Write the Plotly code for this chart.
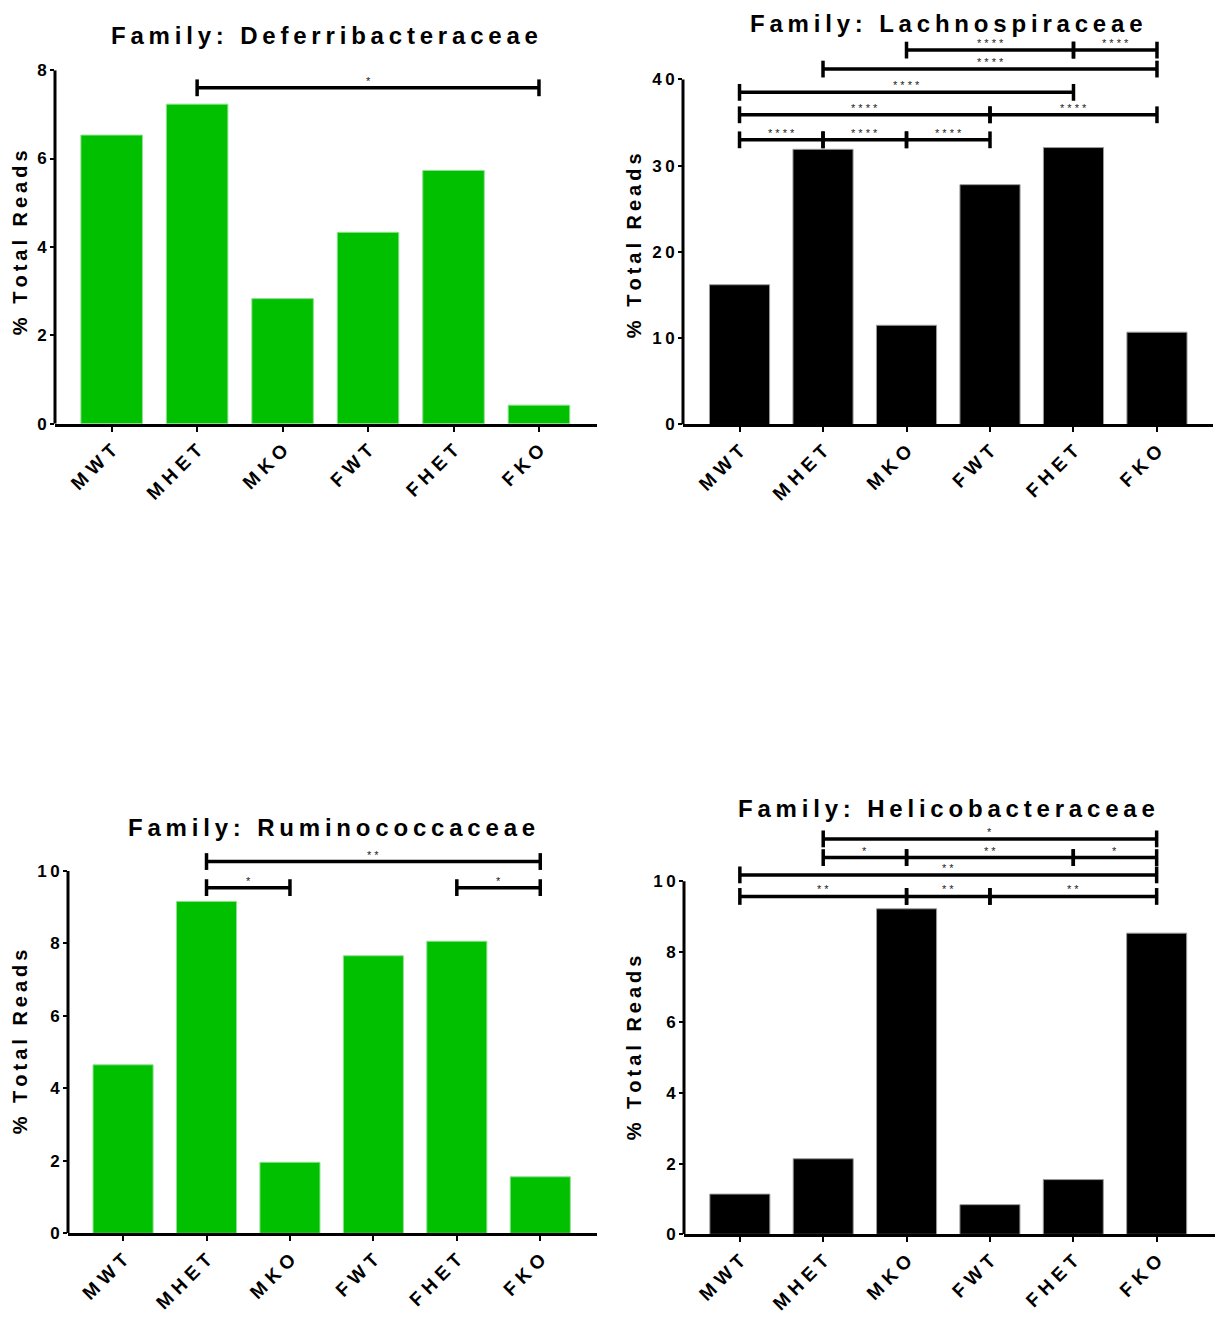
import plotly.graph_objects as go

# groups on the x axis
groups = ['MWT', 'MHET', 'MKO', 'FWT', 'FHET', 'FKO']

# % total reads per group
deferri = [6.53, 7.23, 2.83, 4.33, 5.73, 0.42]
lachno = [16.2, 31.9, 11.5, 27.8, 32.1, 10.7]
rumino = [4.65, 9.16, 1.96, 7.66, 8.06, 1.56]
helico = [1.14, 2.14, 9.22, 0.84, 1.55, 8.53]

# significance brackets: (from, to, height, stars)
deferri_sig = [('MHET', 'FKO', 7.6, '*')]
lachno_sig = [
    ('MWT', 'MHET', 33.0, '****'), ('MHET', 'MKO', 33.0, '****'), ('MKO', 'FWT', 33.0, '****'),
    ('MWT', 'FWT', 35.9, '****'), ('FWT', 'FKO', 35.9, '****'),
    ('MWT', 'FHET', 38.5, '****'),
    ('MHET', 'FKO', 41.2, '****'),
    ('MKO', 'FHET', 43.4, '****'), ('FHET', 'FKO', 43.4, '****'),
]
rumino_sig = [
    ('MHET', 'MKO', 9.54, '*'), ('FHET', 'FKO', 9.54, '*'),
    ('MHET', 'FKO', 10.26, '**'),
]
helico_sig = [
    ('MWT', 'MKO', 9.57, '**'), ('MKO', 'FWT', 9.57, '**'), ('FWT', 'FKO', 9.57, '**'),
    ('MWT', 'FKO', 10.18, '**'),
    ('MHET', 'MKO', 10.67, '*'), ('MKO', 'FHET', 10.67, '**'), ('FHET', 'FKO', 10.67, '*'),
    ('MHET', 'FKO', 11.2, '*'),
]

# y tick values
deferri_ticks = [0, 2, 4, 6, 8]
lachno_ticks = [0, 10, 20, 30, 40]
rumino_ticks = [0, 2, 4, 6, 8, 10]
helico_ticks = [0, 2, 4, 6, 8, 10]

# the page body has an 8px margin, so the figure is shrunk and shifted by it
OFF = 8
W, H = 1225 - 2 * OFF, 1332 - 2 * OFF
# the screenshot comes out slightly squeezed vertically, undo that
YS, YC = 0.9854, 9.0
GREEN = '#00c000'
FONT = 'Liberation Sans, Arial, sans-serif'


def fx(x):
    return (x - OFF) / W


def fy(y):
    y = (y - YC) / YS
    return (H - (y - OFF)) / H


def spaced(s, gap='\u2009'):
    # Prism-style wide letter spacing
    return (gap + ' ' + gap).join(gap.join(w) for w in s.split(' '))


# target pixels: x axis left/right, y of zero, y of axis top, axis max, range top
panels = [
    dict(title='Family: Deferribacteraceae', vals=deferri, sig=deferri_sig, ticks=deferri_ticks,
         color=GREEN, edge='#8fe08f', px=(55, 597), zero=423.5, top=70, ymax=8, rtop=8,
         cat=(-0.663, 5.679), title_xy=(324, 35), ytitle_xy=(20, 243)),
    dict(title='Family: Lachnospiraceae', vals=lachno, sig=lachno_sig, ticks=lachno_ticks,
         color='black', edge='#9a9a9a', px=(683, 1213), zero=424.3, top=79.3, ymax=40, rtop=45,
         cat=(-0.677, 5.671), title_xy=(946, 23), ytitle_xy=(634, 246)),
    dict(title='Family: Ruminococcaceae', vals=rumino, sig=rumino_sig, ticks=rumino_ticks,
         color=GREEN, edge='#8fe08f', px=(68, 597), zero=1233, top=870.7, ymax=10, rtop=10.6,
         cat=(-0.66, 5.68), title_xy=(331, 827), ytitle_xy=(20, 1042)),
    dict(title='Family: Helicobacteraceae', vals=helico, sig=helico_sig, ticks=helico_ticks,
         color='black', edge='#9a9a9a', px=(684, 1215), zero=1234, top=881, ymax=10, rtop=11.4,
         cat=(-0.67, 5.70), title_xy=(946, 808), ytitle_xy=(634, 1048)),
]

fig = go.Figure()
annotations = []
shapes = []

for k, p in enumerate(panels):
    n = '' if k == 0 else str(k + 1)
    xa, ya = 'x' + n, 'y' + n
    ppu = (p['zero'] - p['top']) / p['ymax']
    dom_top = p['zero'] - p['rtop'] * ppu
    xdom = [fx(p['px'][0]), fx(p['px'][1])]
    ydom = [fy(p['zero']), fy(dom_top)]

    fig.add_trace(go.Bar(
        x=groups, y=p['vals'], xaxis=xa, yaxis=ya, width=0.72,
        marker=dict(color=p['color'], line=dict(color=p['edge'], width=1)),
        hoverinfo='x+y', showlegend=False
    ))

    for a, b, h, stars in p['sig']:
        fig.add_trace(go.Scatter(
            x=[a, b], y=[h, h], xaxis=xa, yaxis=ya, mode='lines+markers',
            line=dict(color='black', width=3.5),
            marker=dict(symbol='line-ns', size=12, color='black',
                        line=dict(color='black', width=3.5)),
            hoverinfo='skip', showlegend=False, cliponaxis=False
        ))
        annotations.append(dict(
            x=(groups.index(a) + groups.index(b)) / 2, y=h, xref=xa, yref=ya,
            text=' '.join(stars), showarrow=False, yshift=7,
            font=dict(size=11, color='#222222', family=FONT)
        ))

    fig.update_layout({
        'xaxis' + n: dict(
            domain=xdom, range=list(p['cat']), anchor=ya,
            showline=True, linecolor='black', linewidth=3,
            ticks='outside', ticklen=5, tickwidth=2, tickcolor='black',
            tickmode='array', tickvals=groups, ticktext=[' '.join(g) for g in groups],
            tickangle=-45, tickfont=dict(size=19, weight='bold', color='black', family=FONT),
            showgrid=False, zeroline=False
        ),
        'yaxis' + n: dict(
            domain=ydom, range=[0, p['rtop']], anchor=xa,
            showline=False, ticks='outside', ticklen=4, tickwidth=2, tickcolor='black',
            tickmode='array', tickvals=p['ticks'],
            ticktext=['\u2009'.join(str(t)) for t in p['ticks']],
            tickfont=dict(size=17, weight='bold', color='black', family=FONT),
            showgrid=False, zeroline=False
        ),
    })

    # y axis line only up to the last tick
    shapes.append(dict(type='line', xref='paper', yref=ya, x0=xdom[0], x1=xdom[0],
                       y0=0, y1=p['ymax'], line=dict(color='black', width=3)))

    annotations.append(dict(
        x=fx(p['title_xy'][0]), y=fy(p['title_xy'][1]), xref='paper', yref='paper',
        text=spaced(p['title']), showarrow=False, xanchor='center', yanchor='middle',
        font=dict(size=24, weight='bold', color='black', family=FONT)
    ))
    annotations.append(dict(
        x=fx(p['ytitle_xy'][0]), y=fy(p['ytitle_xy'][1]), xref='paper', yref='paper',
        text=spaced('% Total Reads'), showarrow=False, textangle=-90,
        xanchor='center', yanchor='middle',
        font=dict(size=20, weight='bold', color='black', family=FONT)
    ))

fig.update_layout(
    width=W, height=H, margin=dict(l=0, r=0, t=0, b=0),
    paper_bgcolor='white', plot_bgcolor='white',
    showlegend=False, bargap=0.28,
    annotations=annotations, shapes=shapes
)

fig.write_html("out.html")
